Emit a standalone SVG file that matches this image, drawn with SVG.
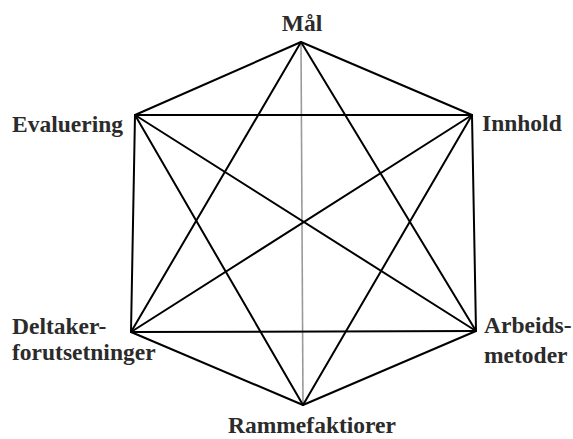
<svg xmlns="http://www.w3.org/2000/svg" width="573" height="439" viewBox="0 0 573 439">
<style>
.e{stroke:#000;stroke-width:2;fill:none;stroke-linecap:round}
.g{stroke:#9a9a9a;stroke-width:1.6;fill:none}
text{font-family:"Liberation Serif","Times New Roman",serif;font-weight:bold;font-size:23.5px;fill:#2b2b2b}
</style>
<rect width="573" height="439" fill="#fff"/>
<g id="connectors">
<line class="g" x1="301" y1="42" x2="303" y2="405"/>
<line class="e" x1="301" y1="42" x2="135" y2="115"/>
<line class="e" x1="301" y1="42" x2="472" y2="115"/>
<line class="e" x1="472" y1="115" x2="476" y2="331"/>
<line class="e" x1="476" y1="331" x2="303" y2="405"/>
<line class="e" x1="303" y1="405" x2="131" y2="332"/>
<line class="e" x1="131" y1="332" x2="135" y2="115"/>
<line class="e" x1="301" y1="42" x2="131" y2="332"/>
<line class="e" x1="301" y1="42" x2="476" y2="331"/>
<line class="e" x1="135" y1="115" x2="472" y2="115"/>
<line class="e" x1="135" y1="115" x2="476" y2="331"/>
<line class="e" x1="135" y1="115" x2="303" y2="405"/>
<line class="e" x1="472" y1="115" x2="131" y2="332"/>
<line class="e" x1="472" y1="115" x2="303" y2="405"/>
<line class="e" x1="131" y1="332" x2="476" y2="331"/>
</g>
<g id="maal"><text x="302" y="31" text-anchor="middle">Mål</text></g>
<g id="innhold"><text x="482" y="131">Innhold</text></g>
<g id="evaluering"><text x="12" y="132">Evaluering</text></g>
<g id="deltaker"><text x="12" y="334">Deltaker-</text><text x="12" y="360">forutsetninger</text></g>
<g id="arbeids"><text x="484" y="333">Arbeids-</text><text x="484" y="363">metoder</text></g>
<g id="ramme"><text x="228" y="433">Rammefaktiorer</text></g>
</svg>
